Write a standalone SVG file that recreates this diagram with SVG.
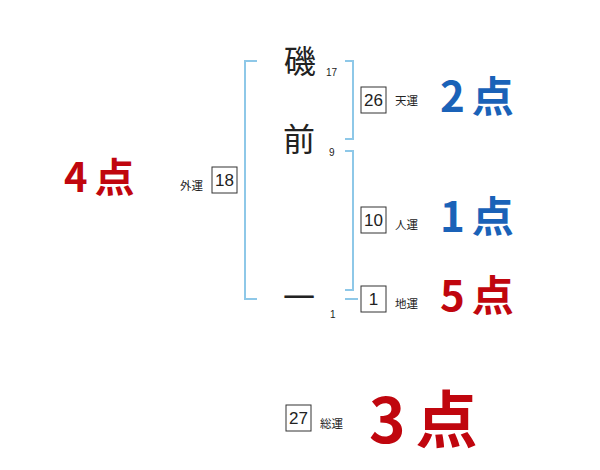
<svg xmlns="http://www.w3.org/2000/svg" width="600" height="470" viewBox="0 0 600 470">
<style>
.br{fill:none;stroke:#8ec8e8;stroke-width:2}
.box{fill:#fff;stroke:#333;stroke-width:1}
.num{font-family:"Liberation Sans",sans-serif;font-size:17px;fill:#222;text-anchor:middle}
.lbl{font-family:"Noto Sans CJK JP",sans-serif;font-size:11.5px;fill:#222}
.ch{font-family:"Noto Sans CJK JP",sans-serif;font-size:32px;fill:#222;text-anchor:middle}
.sn{font-family:"Liberation Sans",sans-serif;font-size:10px;fill:#222}
.blue{font-family:"Noto Sans CJK JP",sans-serif;fill:#1a62b8;font-weight:600;letter-spacing:7px}
.red{font-family:"Noto Sans CJK JP",sans-serif;fill:#c0060e;font-weight:600;letter-spacing:7px}
</style>
<rect width="600" height="470" fill="#fff"/>
<g id="connectors">
<path class="br" d="M257,61 H245 V299 H257"/>
<path class="br" d="M345,61 H353 V139 H345"/>
<path class="br" d="M345,151 H353 V290 H345"/>
<path class="br" d="M345,299 H358"/>
</g>
<g id="char1"><text class="ch" x="300" y="73">磯</text><text class="sn" x="326" y="76">17</text></g>
<g id="char2"><text class="ch" x="299" y="151">前</text><text class="sn" x="329" y="156">9</text></g>
<g id="char3"><text class="ch" x="299" y="309">一</text><text class="sn" x="330" y="318">1</text></g>
<g id="tenun"><rect class="box" x="361" y="87" width="25" height="26"/><text class="num" x="373.5" y="106">26</text><text class="lbl" x="395" y="105">天運</text><text class="blue" x="440" y="112" font-size="42">2点</text></g>
<g id="jinun"><rect class="box" x="361" y="207" width="25" height="26"/><text class="num" x="373.5" y="226">10</text><text class="lbl" x="395" y="229">人運</text><text class="blue" x="440" y="232" font-size="42">1点</text></g>
<g id="chiun"><rect class="box" x="361" y="286" width="25" height="26"/><text class="num" x="373.5" y="305">1</text><text class="lbl" x="395" y="308">地運</text><text class="red" x="440" y="311" font-size="42">5点</text></g>
<g id="gaiun"><rect class="box" x="212" y="167" width="25" height="26"/><text class="num" x="224.5" y="186">18</text><text class="lbl" x="180" y="190">外運</text><text class="red" x="64" y="192" font-size="40">4点</text></g>
<g id="soun"><rect class="box" x="286" y="405" width="25" height="26"/><text class="num" x="298.5" y="424">27</text><text class="lbl" x="320" y="428">総運</text><text class="red" x="369" y="443" font-size="62" style="letter-spacing:10px">3点</text></g>
</svg>
